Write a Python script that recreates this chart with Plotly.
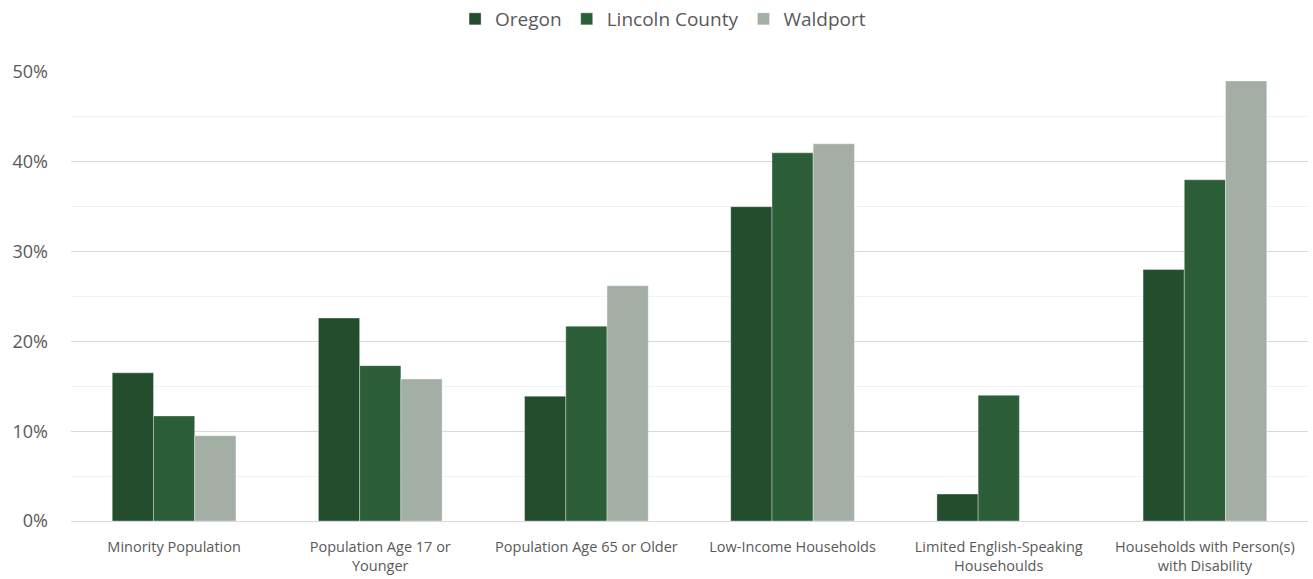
import plotly.graph_objects as go

categories = ["Minority Population", "Population Age 17 or<br>Younger", "Population Age 65 or Older",
              "Low-Income Households", "Limited English-Speaking<br>Househoulds",
              "Households with Person(s)<br>with Disability"]
oregon = [16.5, 22.6, 13.9, 35.0, 3.0, 28.0]
lincoln = [11.7, 17.3, 21.7, 41.0, 14.0, 38.0]
waldport = [9.5, 15.8, 26.2, 42.0, 0.0, 49.0]
y_ticks = [0, 10, 20, 30, 40, 50]
y_labels = ["0%", "10%", "20%", "30%", "40%", "50%"]

fig = go.Figure()
for name, vals, col in [("Oregon", oregon, "#234D2D"), ("Lincoln County", lincoln, "#2C5F38"),
                        ("Waldport", waldport, "#A3AEA4")]:
    fig.add_trace(go.Bar(x=categories, y=vals, name=name, marker_color=col,
                         marker_line=dict(color="rgba(255,255,255,0.35)", width=1)))

font = "Open Sans, Lato, sans-serif"
fig.update_layout(
    width=1313, height=579, barmode="group", bargap=0.4, bargroupgap=0,
    margin=dict(l=71, r=5, t=72, b=58),
    plot_bgcolor="white", paper_bgcolor="white",
    font=dict(family=font, color="#595959"),
    legend=dict(orientation="h", xref="container", yref="container", x=0.505, y=1.0,
                xanchor="center", yanchor="top", font=dict(size=19, color="#595959"),
                itemwidth=30, tracegroupgap=0),
    showlegend=True,
)
fig.update_yaxes(range=[0, 50], tickvals=y_ticks, ticktext=y_labels, tickfont=dict(size=18, color="#595959"),
                 showgrid=True, gridcolor="#D9D9D9", gridwidth=1, zeroline=False,
                 minor=dict(dtick=5, showgrid=True, gridcolor="#F2F2F2", gridwidth=1),
                 ticklabelstandoff=22, fixedrange=True)
fig.update_xaxes(tickfont=dict(size=14.5, color="#595959"), showline=True, linecolor="#D9D9D9",
                 linewidth=1, ticks="", ticklabelstandoff=13)
fig.write_html("out.html")
